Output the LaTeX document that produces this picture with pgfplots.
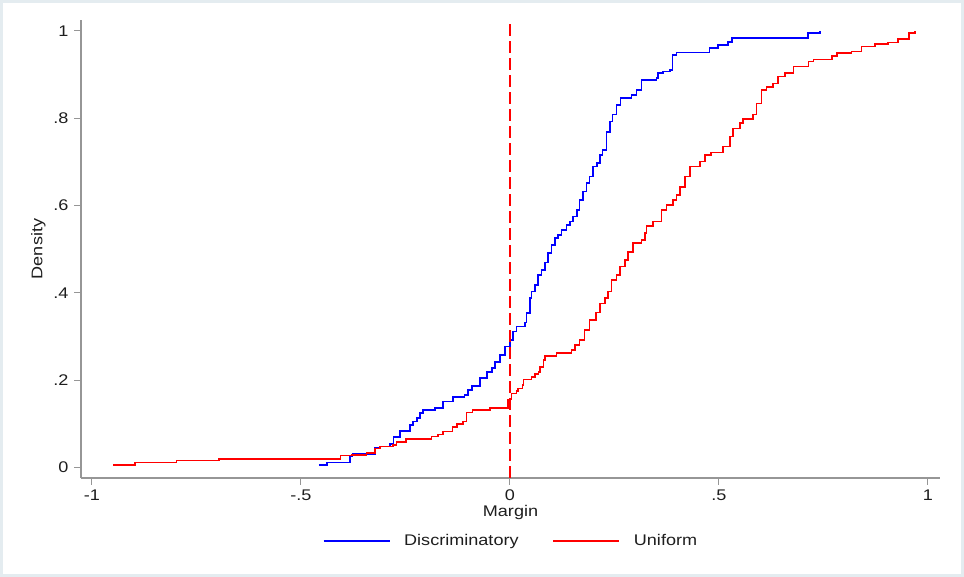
\documentclass[border=0pt]{standalone}
\usepackage{fontspec}
\setmainfont{Liberation Sans}[FakeStretch=1.17]
\usepackage{pgfplots}
\pgfplotsset{compat=1.18}

\definecolor{axisgray}{RGB}{150,150,150}
\definecolor{framecol}{RGB}{228,236,240}
\definecolor{txt}{RGB}{30,30,30}

% Empirical CDFs of the margin: (x, value reached at x)
\newcommand{\discdata}{
(-0.457,0.006) (-0.438,0.011) (-0.383,0.025) (-0.376,0.031) (-0.323,0.045)
(-0.311,0.048) (-0.287,0.054) (-0.278,0.070) (-0.263,0.084) (-0.239,0.097)
(-0.232,0.105) (-0.222,0.113) (-0.215,0.125) (-0.208,0.132) (-0.179,0.136)
(-0.160,0.151) (-0.136,0.162) (-0.108,0.166) (-0.100,0.178) (-0.091,0.187)
(-0.072,0.205) (-0.055,0.219) (-0.043,0.228) (-0.036,0.242) (-0.024,0.258)
(-0.012,0.277) (0.000,0.292) (0.007,0.311) (0.016,0.323) (0.036,0.332)
(0.040,0.354) (0.048,0.388) (0.052,0.403) (0.060,0.418) (0.067,0.441)
(0.076,0.452) (0.084,0.469) (0.091,0.491) (0.100,0.510) (0.108,0.526)
(0.115,0.532) (0.124,0.544) (0.136,0.556) (0.144,0.563) (0.151,0.575)
(0.160,0.590) (0.167,0.613) (0.175,0.632) (0.183,0.652) (0.191,0.666)
(0.199,0.689) (0.208,0.698) (0.215,0.716) (0.222,0.727) (0.231,0.769)
(0.239,0.792) (0.246,0.808) (0.255,0.830) (0.265,0.846) (0.291,0.853)
(0.303,0.865) (0.315,0.888) (0.351,0.892) (0.354,0.904) (0.366,0.907)
(0.383,0.911) (0.389,0.945) (0.399,0.950) (0.478,0.961) (0.498,0.968)
(0.522,0.975) (0.531,0.984) (0.713,0.995) (0.742,1.000)
}
\newcommand{\unifdata}{
(-0.949,0.006) (-0.897,0.011) (-0.797,0.016) (-0.696,0.020) (-0.405,0.027)
(-0.379,0.029) (-0.343,0.033) (-0.323,0.044) (-0.311,0.048) (-0.280,0.052)
(-0.271,0.059) (-0.249,0.065) (-0.187,0.071) (-0.172,0.076) (-0.160,0.082)
(-0.137,0.093) (-0.127,0.100) (-0.112,0.105) (-0.104,0.126) (-0.089,0.132)
(-0.048,0.136) (-0.004,0.156) (0.004,0.170) (0.016,0.175) (0.020,0.181)
(0.030,0.189) (0.032,0.202) (0.052,0.207) (0.060,0.214) (0.068,0.219)
(0.072,0.230) (0.080,0.246) (0.084,0.255) (0.112,0.262) (0.148,0.269)
(0.156,0.281) (0.167,0.292) (0.179,0.315) (0.191,0.338) (0.206,0.355)
(0.215,0.376) (0.227,0.388) (0.235,0.403) (0.243,0.430) (0.255,0.441)
(0.263,0.460) (0.275,0.475) (0.282,0.494) (0.294,0.514) (0.315,0.521)
(0.323,0.537) (0.327,0.553) (0.342,0.563) (0.363,0.590) (0.375,0.601)
(0.390,0.613) (0.399,0.624) (0.407,0.643) (0.419,0.666) (0.431,0.689)
(0.455,0.701) (0.467,0.716) (0.481,0.722) (0.510,0.735) (0.526,0.758)
(0.534,0.777) (0.550,0.789) (0.558,0.798) (0.582,0.808) (0.590,0.834)
(0.602,0.865) (0.614,0.872) (0.630,0.880) (0.642,0.895) (0.658,0.904)
(0.678,0.918) (0.714,0.930) (0.726,0.935) (0.770,0.943) (0.782,0.949)
(0.817,0.953) (0.841,0.964) (0.873,0.970) (0.905,0.973) (0.929,0.981)
(0.955,0.995) (0.969,1.000)
}

\begin{document}
\begin{tikzpicture}[x=1bp,y=1bp]
% page frame
\fill[white] (0,0) rectangle (964,577);
\draw[framecol, line width=3bp] (1.5,1.5) rectangle (962.5,575.5);

\begin{axis}[
  at={(81bp,99bp)}, anchor=south west,
  scale only axis,
  width=859bp, height=458bp,
  xmin=-1.026, xmax=1.029,
  ymin=-0.024, ymax=1.025,
  axis lines=left,
  axis line style={-, axisgray, line width=1.2bp},
  tick style={axisgray, line width=1bp},
  tick align=outside,
  major tick length=7bp,
  xtick={-1,-0.5,0,0.5,1},
  xticklabels={-1,-.5,0,.5,1},
  ytick={0,0.2,0.4,0.6,0.8,1},
  yticklabels={0,.2,.4,.6,.8,1},
  tick label style={font=\fontsize{15.5}{18}\selectfont, text=txt},
  xticklabel style={yshift=-1bp},
  yticklabel style={xshift=-2bp},
  xlabel={Margin},
  ylabel={Density},
  label style={font=\fontsize{15.5}{18}\selectfont, text=txt},
  xlabel style={yshift=2bp},
  ylabel style={yshift=1bp},
  legend columns=2,
  legend style={
    at={(0.5006,-0.1376)}, anchor=center,
    draw=none, fill=none,
    font=\fontsize{15.5}{18}\selectfont, text=txt,
    /tikz/every odd column/.append style={column sep=12bp},
    /tikz/every even column/.append style={column sep=32bp},
  },
  legend image code/.code={\draw[#1, line width=1.3bp] (0bp,0bp) -- (66bp,0bp);},
  clip=false,
]
\addplot[const plot, blue, line width=1.5bp] coordinates {\discdata};
\addlegendentry{Discriminatory}
\addplot[const plot, red, line width=1.5bp] coordinates {\unifdata};
\addlegendentry{Uniform}
% reference line at zero margin
\addplot[red, line width=1.8bp, dash pattern=on 12bp off 5bp, forget plot]
  coordinates {(0,-0.024) (0,1.025)};
\end{axis}
\end{tikzpicture}
\end{document}
